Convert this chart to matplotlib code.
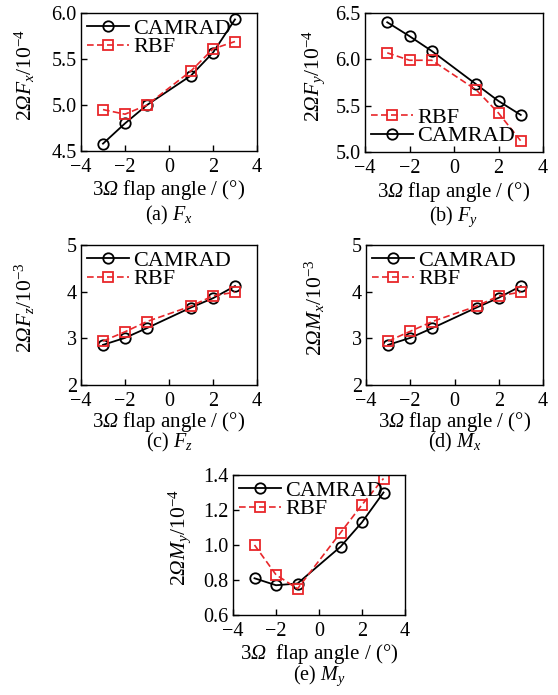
import matplotlib
matplotlib.use('Agg')
import matplotlib.pyplot as plt

plt.rcParams['font.family'] = ['Liberation Serif', 'DejaVu Serif']
# rm is italic so that the capital Omega comes out slanted; sf is the upright face
plt.rcParams['mathtext.fontset'] = 'custom'
plt.rcParams['mathtext.rm'] = 'Liberation Serif:italic'
plt.rcParams['mathtext.it'] = 'Liberation Serif:italic'
plt.rcParams['mathtext.sf'] = 'Liberation Serif'
plt.rcParams['font.size'] = 14

# flap angle (deg)
angle = [-3, -2, -1, 1, 2, 3]

fx_camrad = [4.58, 4.80, 5.00, 5.32, 5.57, 5.93]
fx_rbf = [4.95, 4.90, 5.00, 5.37, 5.61, 5.69]

fy_camrad = [6.40, 6.25, 6.09, 5.73, 5.55, 5.40]
fy_rbf = [6.07, 5.99, 5.99, 5.67, 5.42, 5.12]

fz_camrad = [2.86, 3.01, 3.22, 3.66, 3.86, 4.12]
fz_rbf = [2.94, 3.14, 3.36, 3.69, 3.91, 3.99]

mx_camrad = [2.86, 3.01, 3.22, 3.66, 3.87, 4.12]
mx_rbf = [2.94, 3.15, 3.36, 3.69, 3.91, 3.99]

my_camrad = [0.81, 0.77, 0.78, 0.99, 1.13, 1.30]
my_rbf = [1.00, 0.83, 0.75, 1.07, 1.23, 1.38]

W, H = 558, 695
fig = plt.figure(figsize=(W / 100, H / 100), dpi=100)


def make_ax(l, t, r, b):
    return fig.add_axes([l / W, 1 - b / H, (r - l) / W, (b - t) / H])


def panel(ax, cam, rbf, ylim, yticks, yfmt, ylabel, xlabel, caption,
          ylab_x, xlab_y, cap_y, rbf_first=False, loc='upper left'):
    l1, = ax.plot(angle, cam, '-o', color='black', lw=1.3, ms=7.5,
                  mfc='none', mew=1.3, label='CAMRAD')
    l2, = ax.plot(angle, rbf, '--s', color='#e8262a', lw=1.2, ms=7,
                  mfc='none', mew=1.3, label='RBF', dashes=(4, 2))
    ax.set_xlim(-4, 4)
    ax.set_xticks([-4, -2, 0, 2, 4])
    ax.set_xticklabels(['\u22124', '\u22122', '0', '2', '4'])
    ax.set_ylim(*ylim)
    ax.set_yticks(yticks)
    ax.set_yticklabels([yfmt.format(v) for v in yticks])
    ax.tick_params(direction='in', length=4, width=1, labelsize=14.5, pad=3)
    ax.tick_params(axis='x', pad=5)
    for s in ax.spines.values():
        s.set_linewidth(1.0)
    ax.set_xlabel(xlabel, fontsize=15, va='center')
    ax.xaxis.set_label_coords(0.5, xlab_y)
    ax.set_ylabel(ylabel, fontsize=15.5, va='center')
    ax.yaxis.set_label_coords(ylab_x, 0.55)
    handles = [l2, l1] if rbf_first else [l1, l2]
    ax.legend(handles=handles, loc=loc, frameon=False, fontsize=16,
              handlelength=1.9, handletextpad=0.2, labelspacing=-0.1,
              borderaxespad=0.1, borderpad=0.15)
    ax.text(0.5, cap_y, caption, transform=ax.transAxes, ha='center',
            va='center', fontsize=14.5)


xl = '$\\mathsf{3}\\Omega$ flap angle / (\u00b0)'

ax = make_ax(81, 13, 257, 151)
panel(ax, fx_camrad, fx_rbf, (4.5, 6.0), [4.5, 5.0, 5.5, 6.0], '{:.1f}',
      r'$\mathsf{2}\Omega F_x\mathsf{/10}^{\mathsf{-4}}$', xl,
      r'(a) $F_x$', -0.32, -0.285, -0.465)

ax = make_ax(365, 13, 543, 152)
panel(ax, fy_camrad, fy_rbf, (5.0, 6.5), [5.0, 5.5, 6.0, 6.5], '{:.1f}',
      r'$\mathsf{2}\Omega F_y\mathsf{/10}^{\mathsf{-4}}$', xl,
      r'(b) $F_y$', -0.29, -0.285, -0.465,
      rbf_first=True, loc='lower left')

ax = make_ax(81, 245, 257, 385)
panel(ax, fz_camrad, fz_rbf, (2, 5), [2, 3, 4, 5], '{:.0f}',
      r'$\mathsf{2}\Omega F_z\mathsf{/10}^{\mathsf{-3}}$', xl,
      r'(c) $F_z$', -0.32, -0.265, -0.41)

ax = make_ax(366, 245, 543, 385)
panel(ax, mx_camrad, mx_rbf, (2, 5), [2, 3, 4, 5], '{:.0f}',
      r'$\mathsf{2}\Omega M_x\mathsf{/10}^{\mathsf{-3}}$', xl,
      r'(d) $M_x$', -0.29, -0.265, -0.41)

ax = make_ax(233, 475, 405, 615)
panel(ax, my_camrad, my_rbf, (0.6, 1.4), [0.6, 0.8, 1.0, 1.2, 1.4], '{:.1f}',
      r'$\mathsf{2}\Omega M_y\mathsf{/10}^{\mathsf{-4}}$',
      '$\\mathsf{3}\\Omega$  flap angle / (\u00b0)',
      r'(e) $M_y$', -0.31, -0.275, -0.435)

fig.savefig('out.png', dpi=100)
